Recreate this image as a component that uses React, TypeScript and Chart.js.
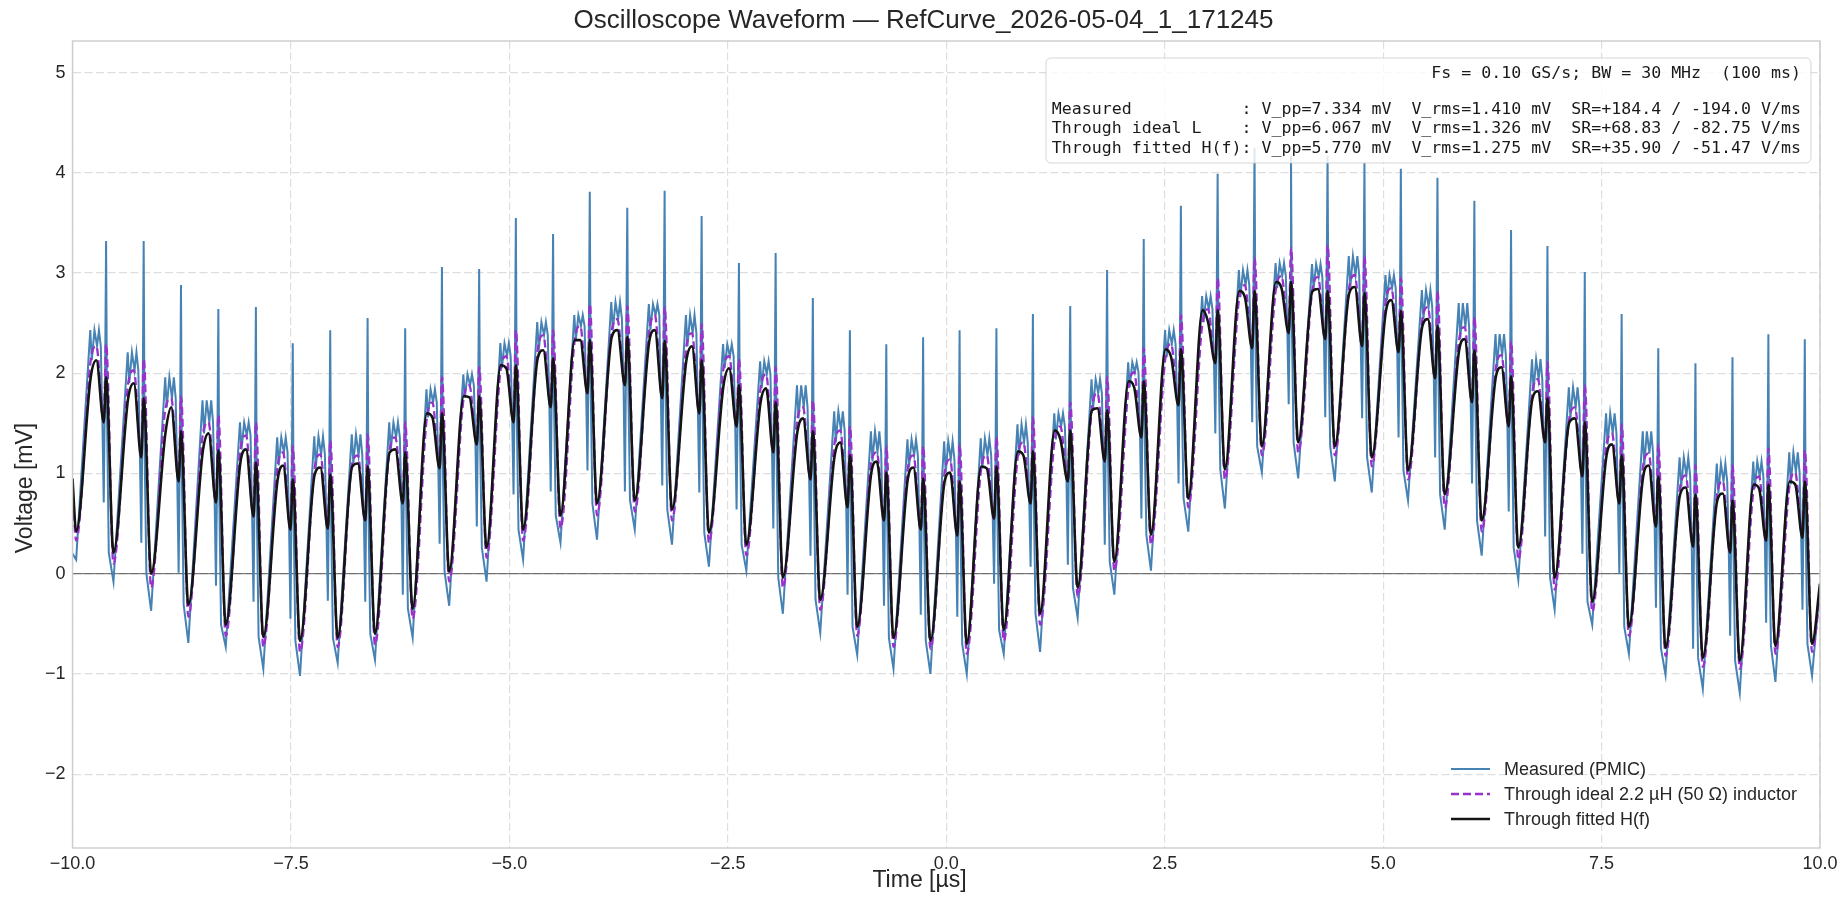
import React, { useEffect, useRef } from "react";
import { Chart, registerables } from "chart.js";

Chart.register(...registerables);

const W = 1847;
const H = 899;

// Times of the fitted-curve troughs [µs] (one per switching cycle)
const troughTimes = [
  -9.958, -9.531, -9.1, -8.674, -8.246, -7.816, -7.396, -6.965, -6.538, -6.107, -5.689, -5.261,
  -4.843, -4.415, -3.997, -3.565, -3.139, -2.716, -2.288, -1.87, -1.442, -1.019, -0.604, -0.181,
  0.235, 0.658, 1.074, 1.504, 1.924, 2.343, 2.77, 3.189, 3.612, 4.028, 4.447, 4.87,
  5.285, 5.705, 6.128, 6.547, 6.963, 7.393, 7.813, 8.232, 8.659, 9.082, 9.49, 9.909,
];

// Trough values [mV]
const blackLow = [
  0.42, 0.21, 0.0, -0.31, -0.51, -0.63, -0.67, -0.64, -0.6, -0.35, 0.02, 0.26, 0.44, 0.58, 0.7, 0.73,
  0.64, 0.41, 0.29, -0.04, -0.26, -0.53, -0.64, -0.67, -0.7, -0.56, -0.4, -0.14, 0.12, 0.39, 0.75, 1.04,
  1.27, 1.31, 1.27, 1.16, 1.03, 0.79, 0.53, 0.26, -0.04, -0.28, -0.53, -0.74, -0.84, -0.87, -0.72, -0.7,
];
const purpleLow = [
  0.33, 0.1, -0.14, -0.43, -0.62, -0.73, -0.78, -0.73, -0.71, -0.45, -0.08, 0.16, 0.33, 0.45, 0.58, 0.62,
  0.53, 0.31, 0.18, -0.14, -0.36, -0.62, -0.73, -0.75, -0.8, -0.67, -0.51, -0.23, 0.03, 0.29, 0.66, 0.94,
  1.18, 1.21, 1.18, 1.07, 0.94, 0.66, 0.42, 0.14, -0.16, -0.38, -0.62, -0.82, -0.93, -0.95, -0.8, -0.78,
];
const blueLow = [
  0.14, -0.08, -0.37, -0.69, -0.73, -0.95, -1.02, -0.89, -0.86, -0.64, -0.32, -0.08, 0.14, 0.31, 0.34, 0.44,
  0.29, 0.07, 0.03, -0.4, -0.59, -0.81, -0.95, -1.0, -1.0, -0.8, -0.78, -0.44, -0.21, 0.03, 0.42, 0.65,
  1.01, 0.95, 0.92, 0.81, 0.73, 0.44, 0.18, -0.06, -0.36, -0.51, -0.8, -1.01, -1.15, -1.19, -1.08, -1.02,
];

// Per-cycle values [mV]
const blackPeak = [
  2.13, 1.9, 1.66, 1.4, 1.24, 1.08, 1.06, 1.1, 1.24, 1.56, 1.76, 2.05, 2.23, 2.33, 2.43, 2.43,
  2.27, 2.05, 1.85, 1.55, 1.31, 1.12, 1.06, 1.01, 1.05, 1.18, 1.34, 1.65, 1.86, 2.16, 2.51, 2.76,
  2.85, 2.84, 2.86, 2.73, 2.54, 2.34, 2.06, 1.82, 1.55, 1.29, 1.08, 0.86, 0.8, 0.85, 0.89,
];
const blackDip = [
  1.51, 1.16, 0.92, 0.71, 0.57, 0.44, 0.45, 0.53, 0.7, 1.05, 1.29, 1.51, 1.66, 1.8, 1.88, 1.75,
  1.6, 1.47, 1.21, 0.94, 0.66, 0.53, 0.44, 0.38, 0.55, 0.7, 0.92, 1.12, 1.36, 1.68, 2.1, 2.25,
  2.4, 2.34, 2.27, 2.21, 1.95, 1.71, 1.47, 1.31, 0.97, 0.7, 0.47, 0.27, 0.21, 0.33, 0.36,
];
const blackBump = [
  1.96, 1.75, 1.42, 1.23, 1.11, 0.94, 0.99, 1.07, 1.21, 1.6, 1.77, 2.08, 2.15, 2.33, 2.36, 2.32,
  2.13, 1.88, 1.71, 1.42, 1.18, 1.01, 0.95, 0.92, 1.07, 1.22, 1.43, 1.63, 1.92, 2.24, 2.63, 2.82,
  2.91, 2.82, 2.8, 2.62, 2.47, 2.23, 1.97, 1.75, 1.51, 1.18, 0.97, 0.79, 0.73, 0.89, 0.92,
];
const purplePeak = [
  2.27, 2.03, 1.75, 1.51, 1.38, 1.21, 1.19, 1.18, 1.36, 1.71, 1.88, 2.17, 2.38, 2.47, 2.54, 2.58,
  2.4, 2.17, 1.99, 1.66, 1.43, 1.21, 1.18, 1.14, 1.18, 1.31, 1.47, 1.8, 2.01, 2.29, 2.64, 2.88,
  2.97, 2.96, 2.98, 2.85, 2.66, 2.46, 2.18, 1.94, 1.66, 1.4, 1.2, 0.98, 0.92, 0.97, 1.01,
];
const purpleSpike = [
  2.29, 2.14, 1.77, 1.58, 1.51, 1.27, 1.33, 1.39, 1.51, 1.96, 2.06, 2.43, 2.43, 2.69, 2.67, 2.66,
  2.49, 2.14, 2.06, 1.73, 1.47, 1.27, 1.27, 1.29, 1.36, 1.56, 1.71, 1.96, 2.25, 2.58, 2.95, 3.15,
  3.25, 3.28, 3.17, 2.95, 2.82, 2.56, 2.32, 2.11, 1.88, 1.49, 1.29, 1.08, 1.08, 1.25, 1.23,
];
const blueTop = [
  2.43, 2.21, 1.96, 1.73, 1.51, 1.36, 1.37, 1.39, 1.51, 1.84, 1.99, 2.3, 2.51, 2.58, 2.71, 2.69,
  2.58, 2.29, 2.12, 1.88, 1.62, 1.42, 1.34, 1.32, 1.35, 1.49, 1.6, 1.94, 2.11, 2.43, 2.77, 3.03,
  3.1, 3.09, 3.17, 2.98, 2.83, 2.7, 2.39, 2.14, 1.86, 1.6, 1.42, 1.16, 1.1, 1.12, 1.21,
];
const blueNeg = [
  0.71, 0.31, 0.01, -0.12, -0.28, -0.45, -0.27, -0.28, -0.21, 0.3, 0.47, 0.79, 0.82, 1.03, 0.82, 0.88,
  0.81, 0.64, 0.45, 0.18, -0.21, -0.32, -0.41, -0.43, -0.1, 0.07, 0.09, 0.29, 0.55, 0.9, 1.4, 1.51,
  1.69, 1.56, 1.55, 1.36, 1.16, 0.9, 0.62, 0.37, 0.2, 0.0, -0.34, -0.75, -0.62, -0.49, -0.36,
];
const blueSpike = [
  3.32, 3.32, 2.88, 2.64, 2.66, 2.3, 2.43, 2.55, 2.45, 3.06, 3.04, 3.55, 3.39, 3.81, 3.65, 3.82,
  3.57, 3.1, 3.2, 2.75, 2.43, 2.29, 2.36, 2.43, 2.45, 2.59, 2.67, 3.03, 3.34, 3.67, 3.99, 4.25,
  4.17, 4.17, 4.1, 4.04, 3.95, 3.72, 3.43, 3.27, 3.01, 2.59, 2.25, 2.1, 2.16, 2.39, 2.34,
];

// Values at the window edges (t = -10 and t = 10): fitted, ideal L, measured
const startValues = [0.95, 0.85, 0.2];
const endValues = [-0.1, -0.2, -0.12];

const seriesNames = [
  "Measured (PMIC)",
  "Through ideal 2.2 µH (50 Ω) inductor",
  "Through fitted H(f)",
];

const statsLines = [
  "Fs = 0.10 GS/s; BW = 30 MHz  (100 ms)",
  "",
  "Measured           : V_pp=7.334 mV  V_rms=1.410 mV  SR=+184.4 / -194.0 V/ms",
  "Through ideal L    : V_pp=6.067 mV  V_rms=1.326 mV  SR=+68.83 / -82.75 V/ms",
  "Through fitted H(f): V_pp=5.770 mV  V_rms=1.275 mV  SR=+35.90 / -51.47 V/ms",
];

const TITLE = "Oscilloscope Waveform — RefCurve_2026-05-04_1_171245";
const X_LABEL = "Time [µs]";
const Y_LABEL = "Voltage [mV]";

const C_BLUE = "#4682B4";
const C_PURPLE = "#9932CC";
const C_BLACK = "#141414";
const TXT = "#262626";
const SANS = '"Liberation Sans", Arial, sans-serif';
const MONO = '"DejaVu Sans Mono", monospace';

type Pt = { x: number; y: number };
type Shape = Array<[number, (k: number) => number]>;

function build(first: number, last: number, lows: number[], shape: Shape): Pt[] {
  const pts: Pt[] = [{ x: -10, y: first }];
  for (let k = 0; k < troughTimes.length - 1; k++) {
    const t0 = troughTimes[k];
    const p = troughTimes[k + 1] - t0;
    pts.push({ x: t0, y: lows[k] });
    for (const [f, val] of shape) pts.push({ x: t0 + f * p, y: val(k) });
  }
  const n = troughTimes.length - 1;
  pts.push({ x: troughTimes[n], y: lows[n] });
  pts.push({ x: 10, y: last });
  return pts;
}

const blackData = build(startValues[0], endValues[0], blackLow, [
  [0.39, (k) => blackBump[k]],
  [0.541, (k) => blackPeak[k]],
  [0.739, (k) => blackDip[k]],
  [0.802, (k) => blackBump[k]],
]);
const purpleData = build(startValues[1], endValues[1], purpleLow, [
  [0.39, (k) => blackPeak[k]],
  [0.541, (k) => purplePeak[k]],
  [0.739, (k) => blackDip[k]],
  [0.802, (k) => purpleSpike[k]],
]);
const blueData = build(startValues[2], endValues[2], blueLow, [
  [0.378, (k) => blueTop[k]],
  [0.42, (k) => blackPeak[k]],
  [0.49, (k) => blueTop[k]],
  [0.56, (k) => purplePeak[k]],
  [0.61, (k) => blueTop[k]],
  [0.66, (k) => purplePeak[k]],
  [0.703, (k) => blackDip[k]],
  [0.739, (k) => blueNeg[k]],
  [0.775, (k) => blackBump[k]],
  [0.802, (k) => blueSpike[k]],
  [0.829, (k) => blackDip[k]],
  [0.874, (k) => blackLow[k + 1]],
]);

const fmtMinus = (s: string) => s.replace("-", "\u2212");

const decor = {
  id: "decor",
  beforeDraw(chart: any) {
    const ctx = chart.ctx;
    ctx.save();
    ctx.fillStyle = "#ffffff";
    ctx.fillRect(0, 0, chart.width, chart.height);
    ctx.restore();
  },
  beforeDatasetsDraw(chart: any) {
    const { ctx, chartArea: a, scales } = chart;
    const y0 = scales.y.getPixelForValue(0);
    ctx.save();
    ctx.strokeStyle = "rgba(0,0,0,0.5)";
    ctx.lineWidth = 1.3;
    ctx.beginPath();
    ctx.moveTo(a.left, y0);
    ctx.lineTo(a.right, y0);
    ctx.stroke();
    ctx.restore();
  },
  afterDatasetsDraw(chart: any) {
    const { ctx, chartArea: a } = chart;
    ctx.save();
    // frame
    ctx.strokeStyle = "#cccccc";
    ctx.lineWidth = 1.4;
    ctx.strokeRect(a.left, a.top, a.right - a.left, a.bottom - a.top);

    // stats box
    const bx = 1046, by = 58, bw = 765, bh = 105;
    ctx.beginPath();
    (ctx as any).roundRect(bx, by, bw, bh, 5);
    ctx.fillStyle = "rgba(255,255,255,0.82)";
    ctx.fill();
    ctx.strokeStyle = "rgba(204,204,204,0.8)";
    ctx.lineWidth = 1;
    ctx.stroke();
    ctx.fillStyle = "#1a1a1a";
    ctx.font = `16.6px ${MONO}`;
    ctx.textAlign = "right";
    ctx.textBaseline = "middle";
    const lineY = [73.5, 92, 110, 129, 148.3];
    statsLines.forEach((s, i) => {
      if (s) ctx.fillText(s, 1801, lineY[i]);
    });

    // legend
    const lx0 = 1451, lx1 = 1490, tx = 1504;
    const rows = [769, 794, 819];
    const styles = [
      { c: C_BLUE, w: 2, d: [] as number[] },
      { c: C_PURPLE, w: 2.3, d: [8, 4] },
      { c: C_BLACK, w: 2.6, d: [] as number[] },
    ];
    ctx.textAlign = "left";
    ctx.font = `18px ${SANS}`;
    styles.forEach((s, i) => {
      ctx.strokeStyle = s.c;
      ctx.lineWidth = s.w;
      ctx.setLineDash(s.d);
      ctx.beginPath();
      ctx.moveTo(lx0, rows[i]);
      ctx.lineTo(lx1, rows[i]);
      ctx.stroke();
      ctx.setLineDash([]);
      ctx.fillStyle = TXT;
      ctx.fillText(seriesNames[i], tx, rows[i] + 1);
    });

    // title and axis labels (centred on the figure)
    const fx = W / 2;
    ctx.fillStyle = TXT;
    ctx.textAlign = "center";
    ctx.textBaseline = "middle";
    ctx.font = `26px ${SANS}`;
    ctx.fillText(TITLE, fx, 21);
    ctx.font = `23px ${SANS}`;
    ctx.fillText(X_LABEL, fx - 4, 881);
    ctx.save();
    ctx.translate(26, 488);
    ctx.rotate(-Math.PI / 2);
    ctx.fillText(Y_LABEL, 0, 0);
    ctx.restore();
    ctx.restore();
  },
};

export default function App() {
  const ref = useRef<HTMLCanvasElement>(null);
  useEffect(() => {
    const canvas = ref.current;
    if (!canvas) return;
    const chart = new Chart(canvas, {
      type: "line",
      data: {
        datasets: [
          {
            label: seriesNames[2],
            data: blackData,
            borderColor: C_BLACK,
            borderWidth: 2.6,
            pointRadius: 0,
            cubicInterpolationMode: "monotone",
            order: 1,
          },
          {
            label: seriesNames[1],
            data: purpleData,
            borderColor: C_PURPLE,
            borderWidth: 2.3,
            borderDash: [8, 4],
            pointRadius: 0,
            cubicInterpolationMode: "monotone",
            order: 2,
          },
          {
            label: seriesNames[0],
            data: blueData,
            borderColor: C_BLUE,
            borderWidth: 2,
            pointRadius: 0,
            tension: 0,
            order: 3,
          },
        ],
      } as any,
      options: {
        animation: false,
        responsive: false,
        devicePixelRatio: 1,
        layout: { padding: { top: 41, right: 27, left: 0, bottom: 0 } },
        plugins: {
          legend: { display: false },
          title: { display: false },
          tooltip: { enabled: false },
        },
        events: [],
        scales: {
          x: {
            type: "linear",
            min: -10,
            max: 10,
            ticks: {
              stepSize: 2.5,
              autoSkip: false,
              maxRotation: 0,
              includeBounds: false,
              padding: 5,
              color: TXT,
              font: { family: SANS, size: 18 },
              callback: (v: any) => fmtMinus(Number(v).toFixed(1)),
            },
            grid: { color: "#dedede", lineWidth: 1.2, drawTicks: false },
            border: { display: false, dash: [8, 3.5] },
            afterFit: (s: any) => {
              s.height = 51;
            },
          },
          y: {
            type: "linear",
            min: -2.737,
            max: 5.315,
            ticks: {
              stepSize: 1,
              includeBounds: false,
              padding: 7,
              color: TXT,
              font: { family: SANS, size: 18 },
              callback: (v: any) => fmtMinus(String(Math.round(Number(v)))),
            },
            grid: { color: "#dedede", lineWidth: 1.2, drawTicks: false },
            border: { display: false, dash: [8, 3.5] },
            afterFit: (s: any) => {
              s.width = 72.5;
            },
          },
        },
      } as any,
      plugins: [decor],
    });
    return () => chart.destroy();
  }, []);

  return (
    <div style={{ position: "fixed", left: 0, top: 0, width: W, height: H, background: "#fff" }}>
      <canvas ref={ref} width={W} height={H} style={{ width: W, height: H, display: "block" }} />
    </div>
  );
}
